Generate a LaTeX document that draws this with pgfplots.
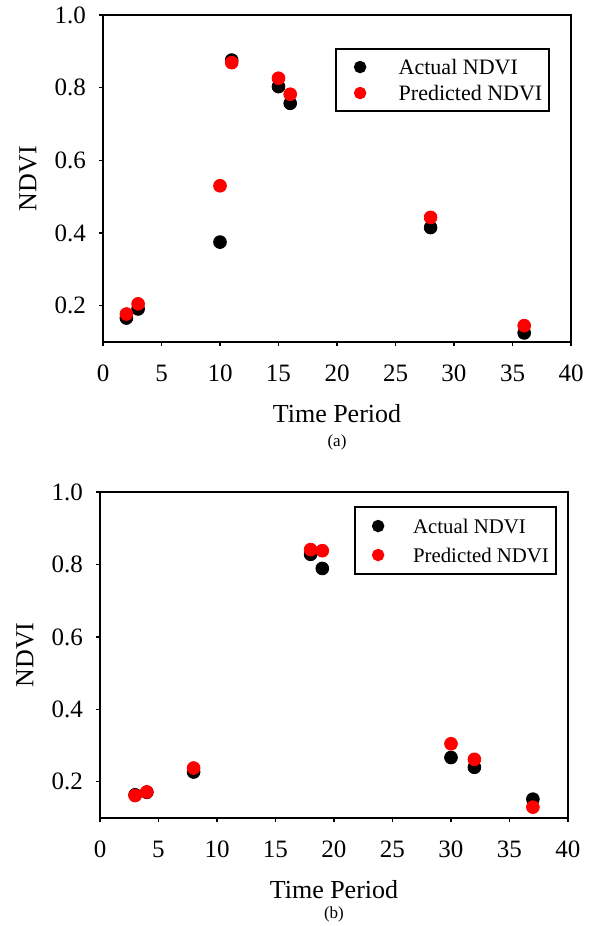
\documentclass[border=0pt]{standalone}
\usepackage{fontspec}
\setmainfont{Liberation Serif}
\usepackage{pgfplots}
\pgfplotsset{compat=1.18}

\pgfplotsset{ndvi/.style={
    scale only axis, width=234pt,
    xmin=0, xmax=40, ymin=0.1, ymax=1.0,
    xtick={0,5,...,40}, ytick={0.2,0.4,0.6,0.8,1.0},
    tick pos=left, tick align=outside, major tick length=2pt,
    every tick/.style={black, line width=0.6pt},
    axis line style={line width=0.6pt},
    /pgf/number format/assume math mode=true,
    yticklabel style={/pgf/number format/.cd, fixed, fixed zerofill, precision=1},
    ticklabel style={font=\fontsize{12.5}{14}\selectfont},
    xticklabel shift=6pt, yticklabel shift=3pt,
    label style={font=\fontsize{13}{15}\selectfont},
    xlabel={Time Period}, ylabel={NDVI},
    xlabel style={at={(axis description cs:0.5,-0.22)}, anchor=center},
    ylabel style={at={(axis description cs:-0.16,0.5)}, anchor=center},
    clip=false,
    legend cell align=left,
    legend style={draw=black, line width=1pt, inner xsep=0pt, row sep=0pt},
    actual/.style={only marks, mark=*, mark size=3.2pt, black, mark options={fill=black}},
    predicted/.style={only marks, mark=*, mark size=3.2pt, red, mark options={fill=red}},
}}

\begin{document}
\begin{tikzpicture}
\path[use as bounding box] (0,0) rectangle (298pt,-463pt);

% (a)
\begin{axis}[ndvi, height=163.5pt, at={(51.5pt,-171pt)}, anchor=south west,
    legend image code/.code={
        \path (-11.5pt,0pt) (15.3pt,0pt);
        \draw[#1, mark size=2.6pt] plot coordinates {(0pt,0pt)};
    },
    legend style={at={(0.496,0.899)}, anchor=north west, inner ysep=2.5pt,
        font=\fontsize{11}{13}\selectfont,
        nodes={inner xsep=3.5pt, inner ysep=2pt, text height=8pt, text depth=1pt}}]
\addplot[actual] coordinates {
    (2,0.166) (3,0.191) (10,0.375) (11,0.876) (15,0.803) (16,0.757) (28,0.415) (36,0.125)};
\addlegendentry{Actual NDVI}
\addplot[predicted] coordinates {
    (2,0.177) (3,0.205) (10,0.530) (11,0.869) (15,0.826) (16,0.782) (28,0.443) (36,0.145)};
\addlegendentry{Predicted NDVI}
\node[font=\fontsize{8.5}{10}\selectfont] at (axis description cs:0.5,-0.306) {(a)};
\end{axis}

% (b)
\begin{axis}[ndvi, height=163pt, at={(50pt,-409pt)}, anchor=south west,
    legend image code/.code={
        \path (-11pt,0pt) (13.5pt,0pt);
        \draw[#1, mark size=2.6pt] plot coordinates {(0pt,0pt)};
    },
    legend style={at={(0.543,0.957)}, anchor=north west, inner ysep=2.25pt,
        font=\fontsize{10.4}{12.5}\selectfont,
        nodes={inner xsep=3.5pt, inner ysep=2.75pt, text height=8pt, text depth=1pt}}]
\addplot[actual] coordinates {
    (3,0.164) (4,0.171) (8,0.227) (18,0.828) (19,0.789) (30,0.267) (32,0.240) (37,0.152)};
\addlegendentry{Actual NDVI}
\addplot[predicted] coordinates {
    (3,0.162) (4,0.172) (8,0.238) (18,0.841) (19,0.838) (30,0.305) (32,0.262) (37,0.130)};
\addlegendentry{Predicted NDVI}
\node[font=\fontsize{8.5}{10}\selectfont] at (axis description cs:0.5,-0.297) {(b)};
\end{axis}
\end{tikzpicture}
\end{document}
